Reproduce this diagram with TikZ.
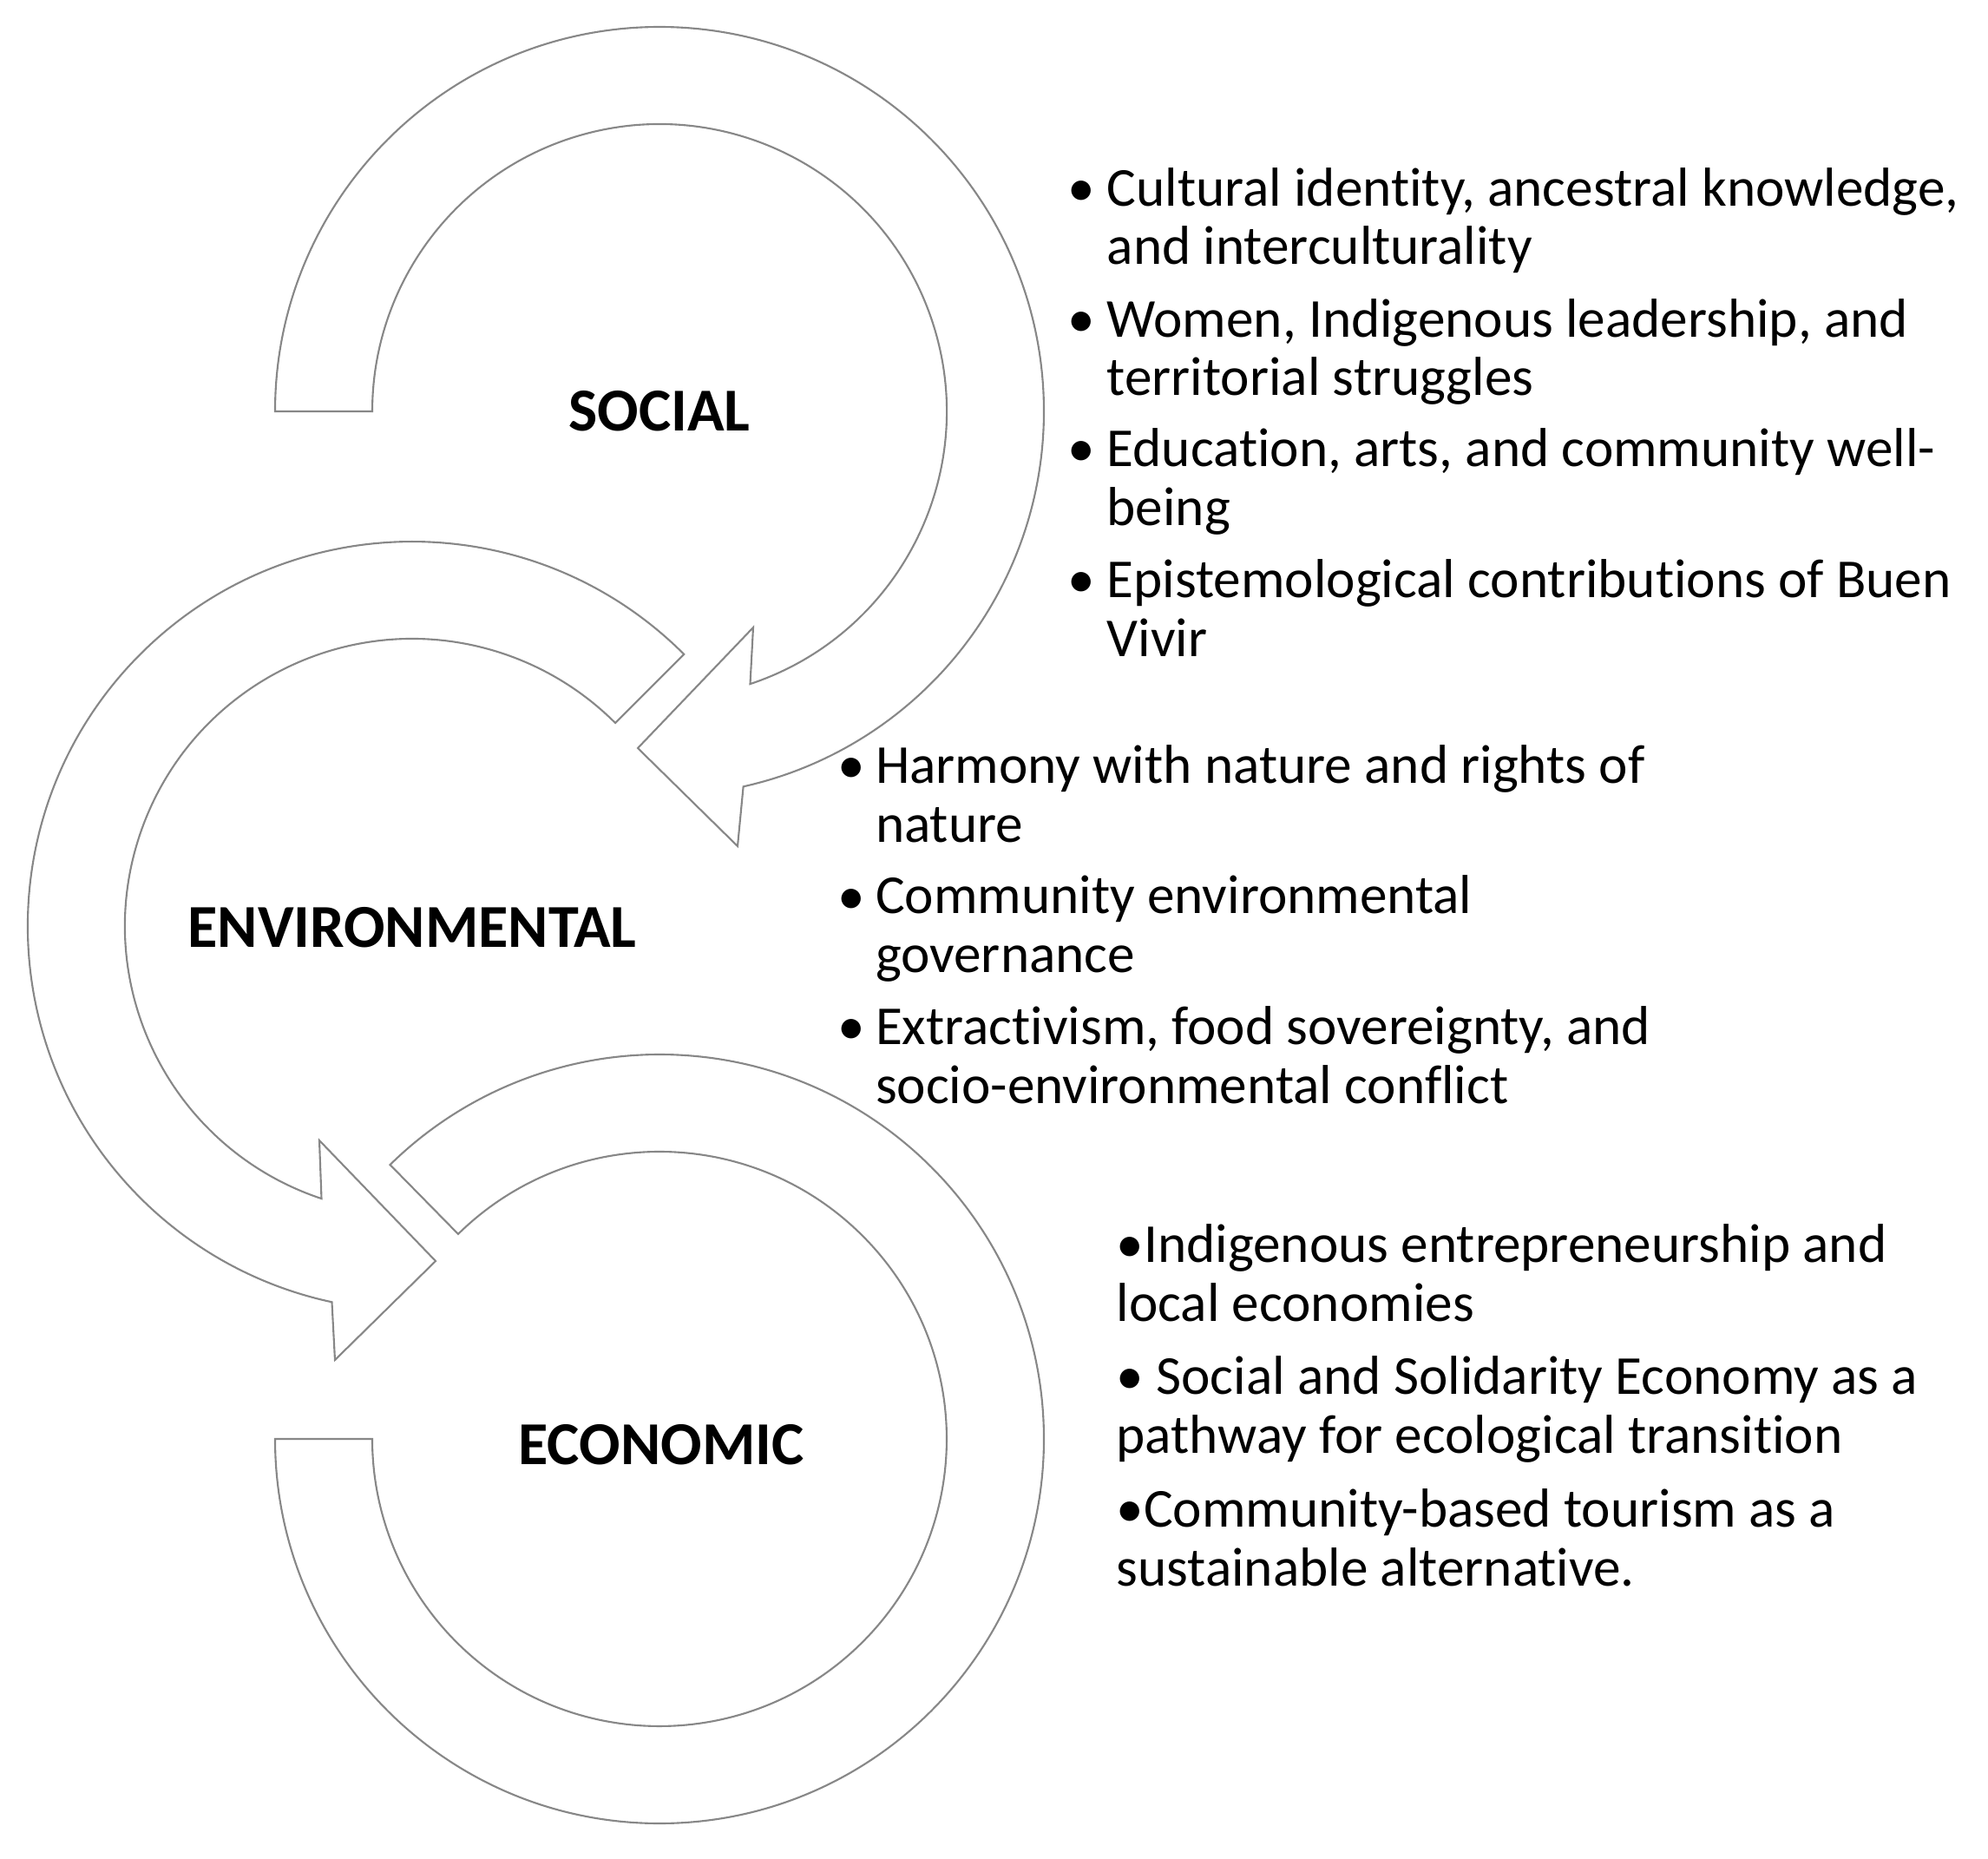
\documentclass[tikz,border=0pt]{standalone}
\usepackage{fontspec}
\setmainfont{Carlito}[Ligatures={NoCommon}]
\definecolor{ringgray}{RGB}{135,135,135}
\tikzset{
  ring/.style={draw=ringgray, line width=0.6pt, fill=white, line join=miter},
  ringlbl/.style={font=\bfseries\fontsize{20}{24}\selectfont, inner sep=0pt},
  itemtxt/.style={align=left, anchor=base west, inner sep=0pt, font=\fontsize{18}{19.15}\selectfont},
  itemdot/.style={anchor=base, inner sep=0pt, font=\fontsize{18}{19.15}\selectfont}
}
\begin{document}
\begin{tikzpicture}
\useasboundingbox (0,0) rectangle (22.91,-21.42);

\draw[ring] (3.17,-4.74) arc[start angle=180, end angle=-77.4, radius=4.43] -- (8.50,-9.75) -- (7.35,-8.62) -- (8.68,-7.23) -- (8.645,-7.881) arc[start angle=-71.6, end angle=180, radius=3.31] -- cycle;
\draw[ring] (7.882,-7.538) arc[start angle=45, end angle=257.95, radius=4.43] -- (3.86,-15.67) -- (5.02,-14.53) -- (3.68,-13.14) -- (3.705,-13.811) arc[start angle=251.6, end angle=45, radius=3.31] -- cycle;
\draw[ring] (3.17,-16.58) arc[start angle=180, end angle=494.5, radius=4.43] -- (5.28,-14.219) arc[start angle=494.5, end angle=180, radius=3.31] -- cycle;

\node[ringlbl] (social) at (7.60,-4.74) {SOCIAL};
\node[ringlbl] (environmental) at (4.75,-10.69) {ENVIRONMENTAL};
\node[ringlbl] (economic) at (7.62,-16.65) {ECONOMIC};

\node[itemdot] (s1b) at (12.465,-2.376) {•};
\node[itemtxt] (s1) at (12.75,-3.05) {Cultural identity, ancestral knowledge,\\and interculturality};
\node[itemdot] (s2b) at (12.465,-3.886) {•};
\node[itemtxt] (s2) at (12.75,-4.56) {Women, Indigenous leadership, and\\territorial struggles};
\node[itemdot] (s3b) at (12.465,-5.376) {•};
\node[itemtxt] (s3) at (12.75,-6.05) {Education, arts, and community well-\\being};
\node[itemdot] (s4b) at (12.465,-6.886) {•};
\node[itemtxt] (s4) at (12.75,-7.56) {Epistemological contributions of Buen\\Vivir};

\node[itemdot] (n1b) at (9.817,-9.027) {•};
\node[itemtxt] (n1) at (10.083,-9.70) {Harmony with nature and rights of\\nature};
\node[itemdot] (n2b) at (9.817,-10.53) {•};
\node[itemtxt] (n2) at (10.083,-11.20) {Community environmental\\governance};
\node[itemdot] (n3b) at (9.817,-12.033) {•};
\node[itemtxt] (n3) at (10.083,-12.71) {Extractivism, food sovereignty, and\\socio-environmental conflict};

\node[itemtxt] (e1) at (12.86,-15.22) {•Indigenous entrepreneurship and\\local economies};
\node[itemtxt] (e2) at (12.86,-16.74) {• Social and Solidarity Economy as a\\pathway for ecological transition};
\node[itemtxt] (e3) at (12.86,-18.27) {•Community-based tourism as a\\sustainable alternative.};

\end{tikzpicture}
\end{document}
